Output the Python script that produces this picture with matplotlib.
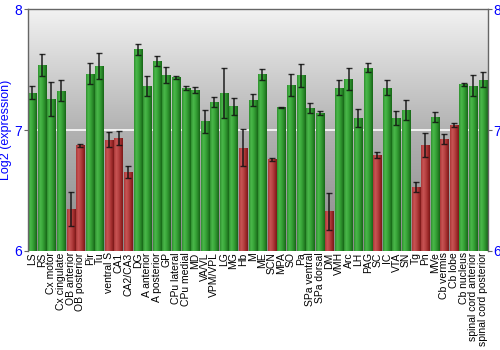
import numpy as np
import matplotlib
matplotlib.use("Agg")
import matplotlib.pyplot as plt
from matplotlib.colors import LinearSegmentedColormap

plt.rcParams["font.family"] = ["Liberation Sans", "DejaVu Sans"]

regions = ["LS", "RS", "Cx motor", "Cx cingulate", "OB anterior", "OB posterior",
           "Pir", "Tu", "ventral S", "CA1", "CA2/CA3", "DG", "A anterior",
           "A posterior", "GP", "CPu lateral", "CPu medial", "MD", "VA/VL",
           "VPM/VPL", "LG", "MG", "Hb", "M", "ME", "SCN", "MPA", "SO", "Pa",
           "SPa ventral", "SPa dorsal", "DM", "VMH", "Arc", "LH", "PAG", "SC",
           "IC", "VTA", "SN", "Tg", "Pn", "MVe", "Cb vermis", "Cb lobe",
           "Cb nucleus", "spinal cord anterior", "spinal cord posterior"]

expression = [7.31, 7.536, 7.26, 7.326, 6.345, 6.873,
              7.467, 7.53, 6.92, 6.936, 6.652, 7.668, 7.367,
              7.572, 7.456, 7.436, 7.348, 7.331, 7.072,
              7.229, 7.307, 7.196, 6.854, 7.249, 7.461, 6.757, 7.19, 7.373, 7.453,
              7.182, 7.141, 6.329, 7.351, 7.423, 7.099, 7.514, 6.793,
              7.351, 7.099, 7.168, 6.528, 6.873, 7.108, 6.925, 7.041,
              7.378, 7.365, 7.417]

errors = [0.05, 0.09, 0.14, 0.09, 0.14, 0.01,
          0.09, 0.105, 0.06, 0.06, 0.05, 0.047, 0.083,
          0.043, 0.065, 0.01, 0.02, 0.025, 0.093,
          0.04, 0.21, 0.07, 0.153, 0.052, 0.044, 0.014, 0.004, 0.09, 0.096,
          0.045, 0.02, 0.152, 0.065, 0.093, 0.072, 0.037, 0.028,
          0.06, 0.055, 0.084, 0.043, 0.1, 0.041, 0.044, 0.017,
          0.014, 0.087, 0.061]

low_regions = ["OB anterior", "OB posterior", "ventral S", "CA1", "CA2/CA3", "Hb",
               "SCN", "DM", "SC", "Tg", "Pn", "Cb vermis", "Cb lobe"]

y_ticks = [6, 7, 8]
y_min, y_max = 6, 8

green_cmap = LinearSegmentedColormap.from_list(
    "green_bar", ["#2f8f2f", "#4bb84b", "#3aa83a", "#2a8a2a", "#176617"])
red_cmap = LinearSegmentedColormap.from_list(
    "red_bar", ["#a83838", "#c95454", "#b84444", "#a02c2c", "#7a1818"])

fig = plt.figure(figsize=(5, 3.5), dpi=100)
ax = fig.add_axes([0.056, 0.283, 0.92, 0.691])

x = np.arange(len(regions))
width = 0.86
x_lo, x_hi = -0.45, len(regions) - 0.45
ax.set_xlim(x_lo, x_hi)
ax.set_ylim(y_min, y_max)

# vertical grey gradient behind the bars: dark at the bottom, light at the top
bg = np.linspace(0, 1, 256).reshape(-1, 1)
bg_cmap = LinearSegmentedColormap.from_list("bg", ["#8a8a8a", "#b2b2b2", "#f2f2f2"])
ax.imshow(bg, cmap=bg_cmap, aspect="auto", extent=[x_lo, x_hi, y_min, y_max],
          zorder=0, origin="lower")

ax.axhline(7, color="white", lw=1.3, alpha=0.9, zorder=1)

bars = ax.bar(x, np.array(expression) - y_min, bottom=y_min, width=width,
              color="none", edgecolor="none", zorder=2)
grad = np.linspace(0, 1, 64).reshape(1, -1)
for xi, val, bar, name in zip(x, expression, bars, regions):
    cmap = red_cmap if name in low_regions else green_cmap
    im = ax.imshow(grad, cmap=cmap, aspect="auto",
                   extent=[xi - width / 2, xi + width / 2, y_min, val], zorder=2)
    im.set_clip_path(bar)

ax.errorbar(x, expression, yerr=errors, fmt="none", ecolor="#111111", elinewidth=1.2,
            capsize=2.2, capthick=1.0, alpha=0.85, zorder=3)

ax.set_xticks(x)
ax.set_xticklabels(regions, rotation=90, fontsize=7.5)
ax.tick_params(axis="x", length=0, pad=1)

ax.set_yticks(y_ticks)
ax.tick_params(axis="y", which="both", left=True, right=True, labelleft=True,
               labelright=True, colors="#666666", labelcolor="blue", labelsize=10,
               length=3, pad=1)
ax.set_ylabel("Log2 (expression)", color="blue", fontsize=9, labelpad=2)

for side in ["left", "right", "top"]:
    ax.spines[side].set_color("#666666")
    ax.spines[side].set_linewidth(1.0)
ax.spines["bottom"].set_visible(False)

fig.savefig("out.png", dpi=100)
